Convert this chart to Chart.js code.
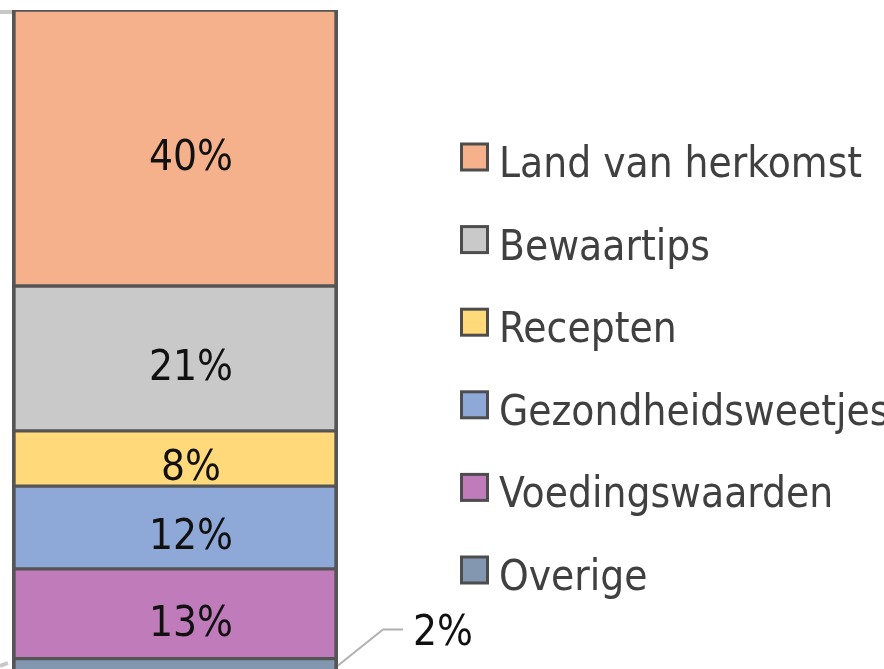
<!DOCTYPE html>
<html>
<head>
<meta charset="utf-8">
<script src="https://cdn.jsdelivr.net/npm/chart.js@4"></script>
<style>
  html, body { margin: 0; padding: 0; background: #fff; }
  #wrap { width: 884px; height: 669px; position: relative; }
</style>
</head>
<body>
<div id="wrap"><canvas id="chart"></canvas></div>
<script>
// data
const categories = ['Informatie'];
const seriesLabels = ['Land van herkomst', 'Bewaartips', 'Recepten', 'Gezondheidsweetjes', 'Voedingswaarden', 'Overige'];
const seriesValues = [40, 21, 8, 12, 13, 2];
const seriesColors = ['#F4B18B', '#C9C9C9', '#FFD97A', '#8EA9D8', '#BF7BBA', '#8497B0'];

const FONT = '"DejaVu Sans Condensed", "DejaVu Sans", sans-serif';
const BORDER = '#555555';

// connector lines from the (cropped) pie, drawn under the bar
const connectorPlugin = {
  id: 'connectors',
  beforeDatasetsDraw(chart) {
    const ctx = chart.ctx;
    const top = chart.scales.y.getPixelForValue(0);
    const left = chart.chartArea.left;
    ctx.save();
    ctx.strokeStyle = '#C8C8C8';
    ctx.lineWidth = 4;
    ctx.beginPath();
    ctx.moveTo(0, top + 2);
    ctx.lineTo(left, top + 2);
    ctx.moveTo(0, chart.height - 3);
    ctx.lineTo(left - 4, chart.height - 6);
    ctx.stroke();
    ctx.restore();
  }
};

// percentage labels inside the segments, leader line for the last one
const labelsPlugin = {
  id: 'segmentLabels',
  afterDatasetsDraw(chart) {
    const ctx = chart.ctx;
    const last = chart.data.datasets.length - 1;
    ctx.save();
    ctx.font = '42px ' + FONT;
    ctx.fillStyle = '#111';
    ctx.textBaseline = 'middle';
    chart.data.datasets.forEach((ds, i) => {
      const bar = chart.getDatasetMeta(i).data[0];
      const cy = (bar.y + bar.base) / 2;
      const text = ds.data[0] + '%';
      if (i === last) {
        const x0 = bar.x + bar.width / 2;
        ctx.strokeStyle = '#B0B0B0';
        ctx.lineWidth = 2;
        ctx.beginPath();
        ctx.moveTo(x0, cy);
        ctx.lineTo(x0 + 45, cy - 36);
        ctx.lineTo(x0 + 65, cy - 36);
        ctx.stroke();
        ctx.textAlign = 'left';
        ctx.fillText(text, x0 + 75, cy - 31);
      } else {
        ctx.textAlign = 'center';
        ctx.fillText(text, bar.x + 16, cy + 11);
      }
    });
    ctx.restore();
  }
};

// legend on the right
const legendPlugin = {
  id: 'sideLegend',
  afterDraw(chart) {
    const ctx = chart.ctx;
    const boxX = 461.5, box = 26, startY = 157, step = 82.6;
    ctx.save();
    ctx.font = '42px ' + FONT;
    ctx.textAlign = 'left';
    ctx.textBaseline = 'alphabetic';
    chart.data.datasets.forEach((ds, i) => {
      const cy = startY + i * step;
      ctx.fillStyle = ds.backgroundColor;
      ctx.fillRect(boxX, cy - box / 2, box, box);
      ctx.strokeStyle = '#4D4D4D';
      ctx.lineWidth = 3;
      ctx.strokeRect(boxX, cy - box / 2, box, box);
      ctx.fillStyle = '#404040';
      ctx.fillText(ds.label, 499, cy + 20);
    });
    ctx.restore();
  }
};

const datasets = seriesLabels.map((label, i) => ({
  label,
  data: [seriesValues[i]],
  backgroundColor: seriesColors[i],
  borderColor: BORDER,
  borderWidth: { left: 4, right: 4, top: 2, bottom: 2 },
  borderSkipped: false
}));

new Chart(document.getElementById('chart'), {
  type: 'bar',
  data: { labels: categories, datasets },
  options: {
    responsive: true,
    maintainAspectRatio: false,
    devicePixelRatio: 1,
    animation: false,
    layout: { padding: { left: 12, right: 546, top: 10, bottom: 0 } },
    datasets: { bar: { categoryPercentage: 1, barPercentage: 1 } },
    scales: {
      x: { stacked: true, display: false },
      y: { stacked: true, display: false, reverse: true, min: 0, max: 95.5 }
    },
    plugins: {
      legend: { display: false },
      tooltip: { enabled: false }
    }
  },
  plugins: [connectorPlugin, labelsPlugin, legendPlugin]
});
</script>
</body>
</html>
